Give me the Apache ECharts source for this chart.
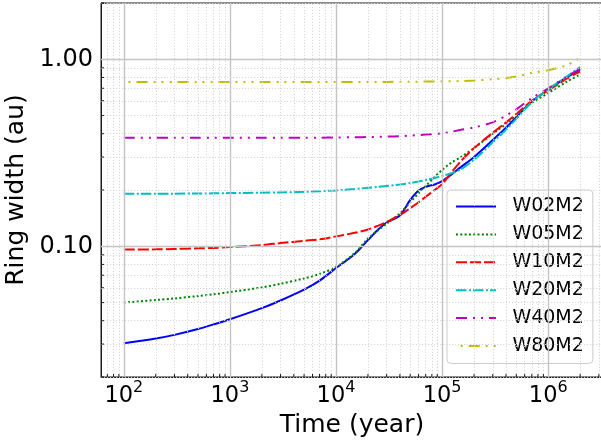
<!DOCTYPE html>
<html>
<head>
<meta charset="utf-8">
<script src="https://cdn.jsdelivr.net/npm/echarts@6/dist/echarts.min.js"></script>
<style>
  html, body { margin: 0; padding: 0; background: #ffffff; }
  #chart { width: 601px; height: 441px; }
</style>
</head>
<body>
<div id="chart"></div>
<script>
// Simulation output times (years)
const time = [100, 200, 300, 500, 700, 1e3, 2e3, 3e3, 5e3, 7e3,
  1e4, 1.5e4, 2e4, 2.5e4, 3e4, 4e4, 5e4, 6e4, 7e4, 8.5e4,
  1e5, 1.2e5, 1.5e5, 2e5, 3e5, 4e5, 5e5, 7e5, 1e6, 1.5e6, 2e6];

// Ring width (au) for each run
const w02m2 = [0.0303, 0.0321, 0.0336, 0.0361, 0.0382, 0.0407, 0.0467, 0.0513, 0.0586, 0.0655,
  0.0765, 0.091, 0.108, 0.123, 0.134, 0.146, 0.177, 0.199, 0.208, 0.214,
  0.223, 0.24, 0.265, 0.30, 0.37, 0.43, 0.49, 0.595, 0.69, 0.80, 0.88];
const w05m2 = [0.050, 0.0516, 0.0526, 0.0542, 0.0554, 0.0569, 0.0603, 0.063, 0.0673, 0.0712,
  0.0776, 0.092, 0.11, 0.122, 0.132, 0.150, 0.172, 0.192, 0.21, 0.235,
  0.256, 0.278, 0.30, 0.335, 0.40, 0.45, 0.50, 0.585, 0.66, 0.76, 0.83];
const w10m2 = [0.096, 0.0963, 0.0968, 0.0975, 0.098, 0.099, 0.1015, 0.104, 0.107, 0.109,
  0.113, 0.118, 0.123, 0.129, 0.135, 0.147, 0.16, 0.172, 0.184, 0.20,
  0.215, 0.245, 0.285, 0.335, 0.405, 0.46, 0.51, 0.60, 0.68, 0.79, 0.86];
const w20m2 = [0.191, 0.191, 0.1912, 0.1915, 0.192, 0.1925, 0.1935, 0.194, 0.1955, 0.197,
  0.199, 0.2025, 0.2055, 0.208, 0.21, 0.214, 0.218, 0.222, 0.226, 0.232,
  0.238, 0.245, 0.258, 0.29, 0.36, 0.42, 0.48, 0.59, 0.69, 0.81, 0.91];
const w40m2 = [0.381, 0.381, 0.381, 0.381, 0.381, 0.381, 0.381, 0.381, 0.381, 0.381,
  0.382, 0.383, 0.384, 0.385, 0.386, 0.388, 0.391, 0.393, 0.396, 0.399,
  0.402, 0.408, 0.42, 0.432, 0.46, 0.50, 0.54, 0.62, 0.70, 0.81, 0.89];
const w80m2 = [0.756, 0.756, 0.756, 0.756, 0.756, 0.756, 0.756, 0.756, 0.756, 0.756,
  0.756, 0.757, 0.757, 0.757, 0.757, 0.758, 0.758, 0.759, 0.760, 0.761,
  0.762, 0.763, 0.765, 0.77, 0.782, 0.795, 0.81, 0.845, 0.875, 0.93, 1.02];

const seriesNames = ['W02M2', 'W05M2', 'W10M2', 'W20M2', 'W40M2', 'W80M2'];
const seriesValues = [w02m2, w05m2, w10m2, w20m2, w40m2, w80m2];

// Axis ticks
const xMajorTicks = [1e2, 1e3, 1e4, 1e5, 1e6];
const yMajorTicks = [0.1, 1];
const minorMultipliers = [2, 3, 4, 5, 6, 7, 8, 9];
const xDecades = [1e1, 1e2, 1e3, 1e4, 1e5, 1e6];
const yDecades = [0.01, 0.1, 1];
const yRange = [0.02, 2];

// ---- styling ----
const FONT = 'DejaVu Sans';
const INK = '#1a1a1a';
const colors = ['#0000ff', '#008000', '#ff0000', '#00bfbf', '#bf00bf', '#bfbf00'];
const dashes = ['solid', [2, 2.3], [11, 3], [10.5, 2.5, 2, 2], [11, 6, 2, 6, 2, 6], [11, 6, 2, 6, 2, 6, 2, 6]];
const dashOffsets = [0, 0, 0, 0, 0, 28.3];

// x range: 5% padding in log space around the data
const lgMin = Math.log10(Math.min(...time));
const lgMax = Math.log10(Math.max(...time));
const pad = 0.05 * (lgMax - lgMin);
const xLo = Math.pow(10, lgMin - pad);
const xHi = Math.pow(10, lgMax + pad);

const isDecade = v => Math.abs(Math.log10(v) - Math.round(Math.log10(v))) < 1e-6;

const inRange = (v, lo, hi) => v >= lo * 0.9999 && v <= hi * 1.0001;
const xMinor = [];
xDecades.forEach(d => minorMultipliers.forEach(k => { const v = d * k; if (inRange(v, xLo, xHi)) xMinor.push(v); }));
const yMinor = [];
yDecades.forEach(d => minorMultipliers.forEach(k => { const v = d * k; if (inRange(v, yRange[0], yRange[1])) yMinor.push(v); }));

const majorGrid = { color: '#c4c4c4', width: 1.4, type: 'solid' };
const minorGrid = { color: '#d2d2d2', width: 0.9, type: [1.2, 1.8] };

const gridLines = [];
xMajorTicks.forEach(v => gridLines.push({ xAxis: v, lineStyle: majorGrid }));
xMinor.forEach(v => gridLines.push({ xAxis: v, lineStyle: minorGrid }));
yMajorTicks.forEach(v => gridLines.push({ yAxis: v, lineStyle: majorGrid }));
yMinor.forEach(v => gridLines.push({ yAxis: v, lineStyle: minorGrid }));

const minorTickData = [];
xMinor.forEach(v => minorTickData.push([v, yRange[0], 0]));
yMinor.forEach(v => minorTickData.push([xLo, v, 1]));

const dataSeries = seriesNames.map((name, i) => ({
  name: name,
  type: 'line',
  data: time.map((t, j) => [t, seriesValues[i][j]]),
  symbol: 'none',
  showSymbol: false,
  smooth: 0.3,
  lineStyle: { color: colors[i], width: 2, type: dashes[i], dashOffset: dashOffsets[i], cap: 'butt' },
  itemStyle: { color: colors[i] },
  z: 3,
  animation: false
}));

const option = {
  animation: false,
  backgroundColor: '#ffffff',
  grid: {
    left: 101, top: 3, width: 502, height: 374,
    containLabel: false, outerBoundsMode: 'none',
    show: true, borderColor: INK, borderWidth: 1, backgroundColor: 'transparent'
  },
  xAxis: {
    type: 'log', logBase: 10, min: xLo, max: xHi,
    axisLine: { show: true, onZero: false, lineStyle: { color: INK, width: 1 } },
    axisTick: { show: true, inside: true, length: 5, lineStyle: { color: INK, width: 1 } },
    splitLine: { show: false },
    axisLabel: {
      margin: 3,
      color: '#000',
      formatter: v => isDecade(v) ? '{b|10}{s|' + Math.round(Math.log10(v)) + '}' : '',
      rich: {
        b: { fontFamily: FONT, fontSize: 22.5, lineHeight: 28, color: '#000', verticalAlign: 'bottom' },
        s: { fontFamily: FONT, fontSize: 16, lineHeight: 12, color: '#000', verticalAlign: 'top' }
      }
    },
    name: 'Time (year)', nameLocation: 'middle', nameGap: 27,
    nameTextStyle: { fontFamily: FONT, fontSize: 25, color: '#000' }
  },
  yAxis: {
    type: 'log', logBase: 10, min: yRange[0], max: yRange[1],
    axisLine: { show: true, onZero: false, lineStyle: { color: INK, width: 1 } },
    axisTick: { show: true, inside: true, length: 5, lineStyle: { color: INK, width: 1 } },
    splitLine: { show: false },
    axisLabel: {
      margin: 8, color: '#000', fontFamily: FONT, fontSize: 24,
      formatter: v => isDecade(v) ? v.toFixed(2) : ''
    },
    name: 'Ring width (au)', nameLocation: 'middle', nameGap: 64, nameRotate: 90,
    nameTextStyle: { fontFamily: FONT, fontSize: 25, color: '#000' }
  },
  legend: {
    data: seriesNames,
    orient: 'vertical',
    left: 447, top: 190,
    padding: [7, 9, 8, 8],
    itemWidth: 40, itemHeight: 20, itemGap: 8.9,
    itemStyle: { opacity: 0 },
    backgroundColor: 'rgba(255,255,255,0.8)',
    borderColor: '#cccccc', borderWidth: 1, borderRadius: 4,
    textStyle: { fontFamily: FONT, fontSize: 19, color: '#000', padding: [0, 0, 0, 11.4] },
    selectedMode: false
  },
  series: [
    {
      name: 'grid',
      type: 'line',
      data: [],
      z: 1,
      silent: true,
      markLine: { silent: true, symbol: ['none', 'none'], label: { show: false }, animation: false, data: gridLines }
    },
    ...dataSeries,
    {
      name: 'minor ticks',
      type: 'custom',
      data: minorTickData,
      z: 5,
      silent: true,
      clip: false,
      renderItem: (params, api) => {
        const p = api.coord([api.value(0), api.value(1)]);
        const len = 3;
        const shape = api.value(2) === 0
          ? { x1: p[0], y1: p[1], x2: p[0], y2: p[1] - len }
          : { x1: p[0], y1: p[1], x2: p[0] + len, y2: p[1] };
        return { type: 'line', shape: shape, style: { stroke: INK, lineWidth: 1 } };
      }
    }
  ]
};

const chart = echarts.init(document.getElementById('chart'), null, { renderer: 'canvas' });
chart.setOption(option);
</script>
</body>
</html>
